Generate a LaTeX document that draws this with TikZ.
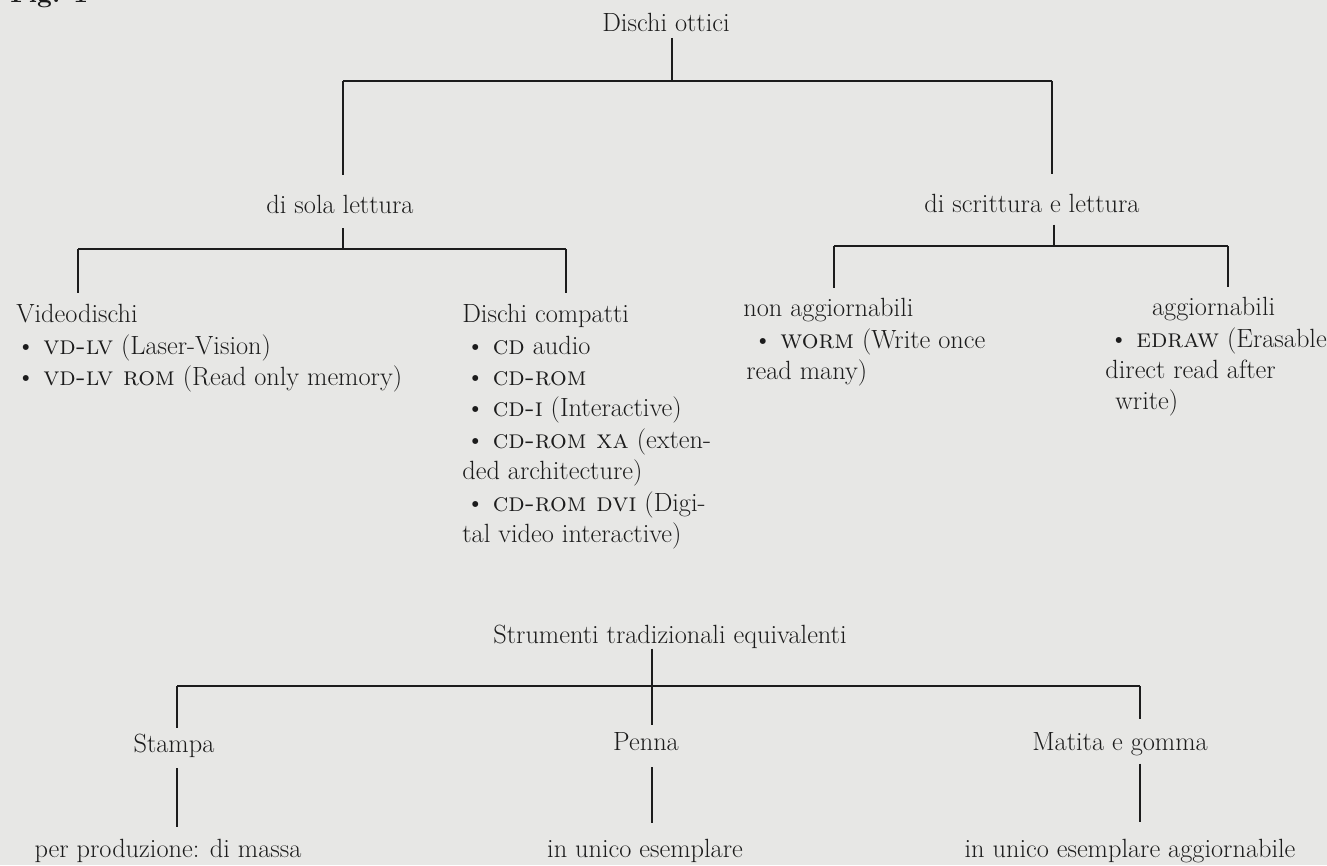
\documentclass[tikz,border=0pt]{standalone}
\usepackage{tikz}
\usetikzlibrary{positioning}
\definecolor{PaperGrey}{HTML}{E7E7E5}
\definecolor{InkBlack}{HTML}{1C1C1C}
\tikzset{
  lbl/.style={inner sep=0pt, anchor=base, text=InkBlack},
  block/.style={inner sep=0pt, anchor=north west, align=left, text=InkBlack},
  link/.style={draw=InkBlack, line width=0.9pt},
}

\begin{document}
\begin{tikzpicture}[x=0.02cm, y=-0.02cm, font=\fontsize{15}{17.9}\selectfont]
    % Page
    \fill[PaperGrey] (0,0) rectangle (1327,865);
    \useasboundingbox (0,0) rectangle (1327,865);
    \node[lbl, anchor=base west, font=\bfseries\fontsize{15}{18}\selectfont] (fig) at (10,3) {Fig. 1};

    % Dischi ottici
    \node[lbl] (ottici) at (666,32) {Dischi ottici};
    \node[lbl] (sola) at (340,213) {di sola lettura};
    \node[lbl] (scrit) at (1032,212) {di scrittura e lettura};

    \node[block] (video) at (16,304) {Videodischi\\
        \textbullet\ \textsc{vd-lv} (Laser-Vision)\\
        \textbullet\ \textsc{vd-lv rom} (Read only memory)};
    \node[block] (compatti) at (462,304) {Dischi compatti\\
        \hspace*{2pt}\textbullet\ \textsc{cd} audio\\
        \hspace*{2pt}\textbullet\ \textsc{cd-rom}\\
        \hspace*{2pt}\textbullet\ \textsc{cd-i} (Interactive)\\
        \hspace*{2pt}\textbullet\ \textsc{cd-rom xa} (exten-\\
        ded architecture)\\
        \hspace*{2pt}\textbullet\ \textsc{cd-rom dvi} (Digi-\\
        tal video interactive)};
    \node[block] (nonagg) at (743,298) {non aggiornabili\\
        \hspace*{5.7pt}\textbullet\ \textsc{worm} (Write once\\
        \hspace*{1.7pt}read many)};
    \node[block] (agg) at (1105,297) {\hspace*{26.6pt}aggiornabili\\
        \hspace*{2.3pt}\textbullet\ \textsc{edraw} (Erasable\\
        direct read after\\
        \hspace*{5.7pt}write)};

    \coordinate (j0) at (672,81);
    \coordinate (j0l) at (343,81);
    \coordinate (j0r) at (1052,81);
    \draw[link, shorten <=3pt] (ottici.south -| j0) -- (j0);
    \draw[link] (j0l) -- (j0r);
    \draw[link, shorten >=11pt] (j0l) -- (j0l |- sola.north);
    \draw[link, shorten >=11pt] (j0r) -- (j0r |- scrit.north);

    \coordinate (j1) at (343,249);
    \coordinate (j1l) at (78,249);
    \coordinate (j1r) at (566,249);
    \draw[link, shorten <=8.5pt] (sola.south -| j1) -- (j1);
    \draw[link] (j1l) -- (j1r);
    \draw[link, shorten >=6pt] (j1l) -- (j1l |- video.north);
    \draw[link, shorten >=6pt] (j1r) -- (j1r |- compatti.north);

    \coordinate (j2) at (1054,246);
    \coordinate (j2l) at (834,246);
    \coordinate (j2r) at (1228,246);
    \draw[link, shorten <=6.8pt] (scrit.south -| j2) -- (j2);
    \draw[link] (j2l) -- (j2r);
    \draw[link, shorten >=5.5pt] (j2l) -- (j2l |- nonagg.north);
    \draw[link, shorten >=5.5pt] (j2r) -- (j2r |- agg.north);

    % Strumenti tradizionali
    \node[lbl] (strum) at (670,643) {Strumenti tradizionali equivalenti};
    \node[lbl] (stampa) at (174,752) {Stampa};
    \node[lbl] (penna) at (646,750) {Penna};
    \node[lbl] (matita) at (1120,750) {Matita e gomma};
    \node[lbl] (massa) at (168,857) {per produzione: di massa};
    \node[lbl] (unico) at (645,857) {in unico esemplare};
    \node[lbl] (aggunico) at (1130,857) {in unico esemplare aggiornabile};

    \coordinate (j3) at (652,686);
    \coordinate (j3l) at (177,686);
    \coordinate (j3r) at (1140,686);
    \draw[link, shorten >=4pt] (strum.south -| j3) -- (penna.north -| j3);
    \draw[link] (j3l) -- (j3r);
    \draw[link, shorten >=3pt] (j3l) -- (j3l |- stampa.north);
    \draw[link, shorten >=7pt] (j3r) -- (j3r |- matita.north);

    \draw[link, shorten <=6pt, shorten >=6.5pt] (stampa.south -| j3l) -- (massa.north -| j3l);
    \draw[link, shorten <=9.6pt, shorten >=8.8pt] (penna.south -| j3) -- (unico.north -| j3);
    \draw[link, shorten <=4.5pt, shorten >=9.4pt] (matita.south -| j3r) -- (aggunico.north -| j3r);
\end{tikzpicture}
\end{document}
